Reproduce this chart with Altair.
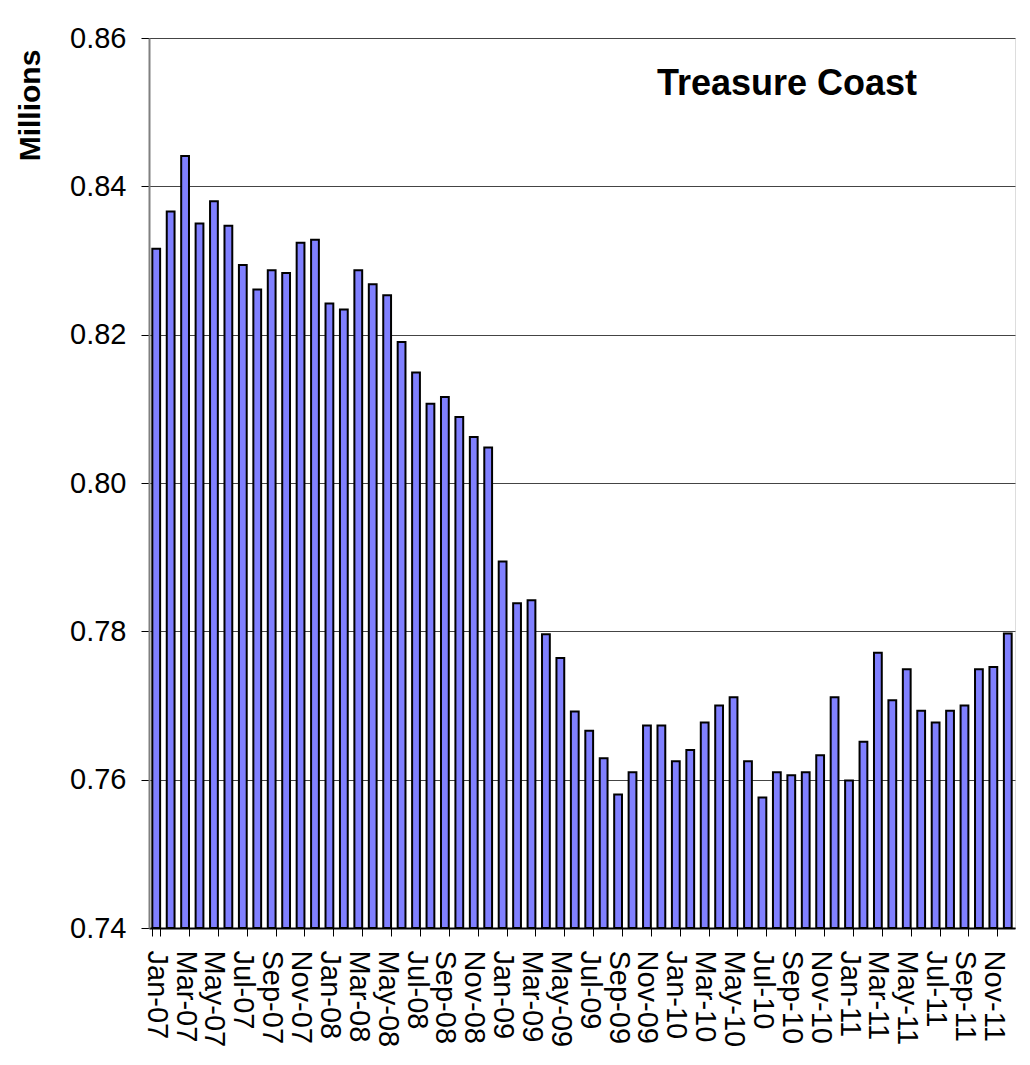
import altair as alt
import pandas as pd

month_names = ["Jan", "Feb", "Mar", "Apr", "May", "Jun", "Jul", "Aug", "Sep", "Oct", "Nov", "Dec"]
years = ["07", "08", "09", "10", "11"]
months = [f"{m}-{y}" for y in years for m in month_names]

values = [
    0.8316, 0.8366, 0.8441, 0.8350, 0.8380, 0.8347, 0.8294, 0.8261, 0.8287, 0.8283, 0.8324, 0.8328,
    0.8242, 0.8234, 0.8287, 0.8268, 0.8253, 0.8190, 0.8149, 0.8107, 0.8116, 0.8089, 0.8062, 0.8048,
    0.7894, 0.7838, 0.7842, 0.7796, 0.7764, 0.7692, 0.7666, 0.7629, 0.7580, 0.7610, 0.7673, 0.7673,
    0.7625, 0.7640, 0.7677, 0.7700, 0.7711, 0.7625, 0.7576, 0.7610, 0.7606, 0.7610, 0.7633, 0.7711,
    0.7599, 0.7651, 0.7771, 0.7707, 0.7749, 0.7693, 0.7677, 0.7693, 0.7700, 0.7749, 0.7752, 0.7797,
]

tick_labels = months[::2]
y_ticks = [0.74, 0.76, 0.78, 0.80, 0.82, 0.84, 0.86]

df = pd.DataFrame({"month": months, "value": values})

FONT = "Liberation Sans"

chart = alt.Chart(df).mark_bar(
    fill="#8080FF", stroke="black", strokeWidth=2
).encode(
    x=alt.X(
        "month:N",
        sort=months,
        scale=alt.Scale(paddingInner=0.46, paddingOuter=0.23),
        axis=alt.Axis(
            title=None,
            values=tick_labels,
            labelAngle=90,
            labelAlign="left",
            labelBaseline="middle",
            labelFont=FONT,
            labelFontSize=29,
            labelColor="black",
            labelPadding=14,
            labelOverlap=False,
            labelBound=False,
            tickBand="extent",
            tickSize=8,
            tickColor="black",
            tickWidth=1,
            domainColor="black",
            domainWidth=2,
            grid=False,
        ),
    ),
    y=alt.Y(
        "value:Q",
        scale=alt.Scale(domain=[0.74, 0.86], zero=False, nice=False),
        axis=alt.Axis(
            title="Millions",
            titleFont=FONT,
            titleFontSize=30,
            titleFontWeight="bold",
            titleColor="black",
            titleAngle=270,
            titleAlign="center",
            titleBaseline="middle",
            titleX=-119,
            titleY=67,
            values=y_ticks,
            format=".2f",
            labelFont=FONT,
            labelFontSize=29,
            labelColor="black",
            labelPadding=15,
            tickSize=8,
            tickColor="black",
            tickWidth=1,
            domainColor="#808080",
            domainWidth=2,
            grid=True,
            gridColor="#444444",
            gridWidth=1,
        ),
    ),
    y2=alt.datum(0.74),
).properties(
    width=866,
    height=890,
    autosize=alt.AutoSizeParams(type="none"),
    padding={"left": 141, "top": 30, "right": 7, "bottom": 129},
    title=alt.TitleParams(
        "Treasure Coast",
        anchor="end",
        frame="group",
        font=FONT,
        fontSize=36,
        fontWeight="bold",
        color="black",
        baseline="alphabetic",
        offset=0,
        dx=-98,
        dy=107,
    ),
).configure_view(
    stroke="#808080", strokeWidth=2
).configure(background="white")

chart.save("out.html", embed_options={"renderer": "svg", "actions": False})
